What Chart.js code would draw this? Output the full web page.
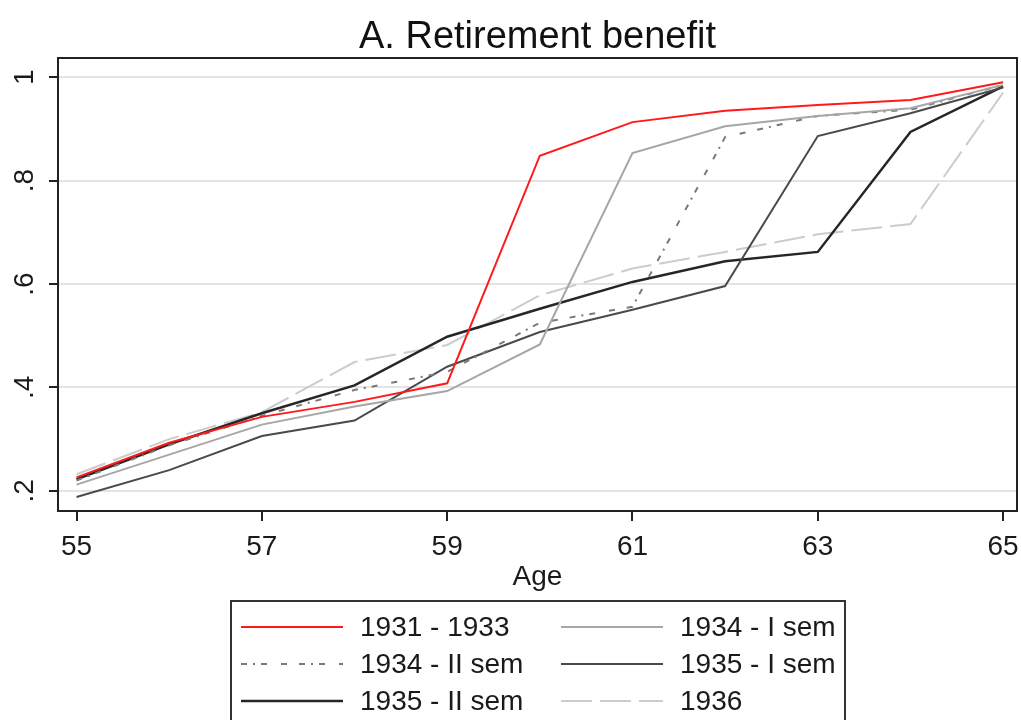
<!DOCTYPE html>
<html>
<head>
<meta charset="utf-8">
<script src="https://cdn.jsdelivr.net/npm/chart.js@4/dist/chart.umd.min.js"></script>
<style>
	html, body { margin: 0; padding: 0; background: #fff; }
	#chart { display: block; }
</style>
</head>
<body>
<canvas id="chart" width="1021" height="720"></canvas>
<script>
const ages = [55, 56, 57, 58, 59, 60, 61, 62, 63, 64, 65];
const xTicks = [55, 57, 59, 61, 63, 65];
const yTicks = [0.2, 0.4, 0.6, 0.8, 1];
const yTickLabels = ['.2', '.4', '.6', '.8', '1'];

const s1931_1933 = [0.226, 0.293, 0.343, 0.372, 0.408, 0.848, 0.913, 0.935, 0.946, 0.956, 0.990];
const s1934_I = [0.212, 0.270, 0.328, 0.363, 0.393, 0.483, 0.853, 0.905, 0.925, 0.940, 0.985];
const s1934_II = [0.220, 0.288, 0.345, 0.395, 0.430, 0.525, 0.556, 0.884, 0.925, 0.937, 0.985];
const s1935_I = [0.188, 0.240, 0.306, 0.336, 0.440, 0.507, 0.550, 0.596, 0.886, 0.930, 0.980];
const s1935_II = [0.222, 0.290, 0.350, 0.404, 0.498, 0.552, 0.604, 0.644, 0.662, 0.894, 0.982];
const s1936 = [0.232, 0.300, 0.352, 0.449, 0.482, 0.578, 0.630, 0.662, 0.696, 0.716, 0.970];

const labels = ['1931 - 1933', '1934 - I sem', '1934 - II sem', '1935 - I sem', '1935 - II sem', '1936'];
const colors = ['#ff1a1a', '#a6a6a6', '#7a7a7a', '#4a4a4a', '#262626', '#cccccc'];
const widths = [2, 2, 2, 2, 2.5, 2];
const dashes = [[], [], [6, 6, 2, 6, 6, 14, 6, 12], [], [], [31, 8]];
const series = [s1931_1933, s1934_I, s1934_II, s1935_I, s1935_II, s1936];

const toPoints = (vals) => vals.map((v, i) => ({ x: ages[i], y: v }));

// y labels are rotated, drawn by hand; box around plot; legend in two columns
const extras = {
	id: 'extras',
	afterDraw(chart) {
		const ctx = chart.ctx;
		const area = chart.chartArea;
		const y = chart.scales.y;

		ctx.save();
		ctx.strokeStyle = '#222';
		ctx.lineWidth = 2;
		ctx.strokeRect(area.left, area.top, area.right - area.left, area.bottom - area.top);

		ctx.fillStyle = '#1a1a1a';
		ctx.font = '28px "Liberation Sans", Arial, sans-serif';
		ctx.textAlign = 'center';
		ctx.textBaseline = 'alphabetic';
		yTicks.forEach((v, i) => {
			ctx.save();
			ctx.translate(33, y.getPixelForValue(v));
			ctx.rotate(-Math.PI / 2);
			ctx.fillText(yTickLabels[i], 0, 0);
			ctx.restore();
		});

		// legend
		ctx.strokeStyle = '#333';
		ctx.lineWidth = 2;
		ctx.strokeRect(231, 601, 614, 130);
		const rows = [627, 664, 701];
		const cols = [241, 561];
		ctx.font = '28px "Liberation Sans", Arial, sans-serif';
		ctx.textAlign = 'left';
		ctx.textBaseline = 'middle';
		labels.forEach((lab, i) => {
			const cx = cols[i % 2];
			const cy = rows[Math.floor(i / 2)];
			ctx.beginPath();
			ctx.setLineDash(dashes[i]);
			ctx.strokeStyle = colors[i];
			ctx.lineWidth = widths[i];
			ctx.moveTo(cx, cy);
			ctx.lineTo(cx + 102, cy);
			ctx.stroke();
			ctx.setLineDash([]);
			ctx.fillStyle = '#1a1a1a';
			ctx.fillText(lab, cx + 119, cy + 1);
		});
		ctx.restore();
	}
};

new Chart(document.getElementById('chart'), {
	type: 'line',
	data: {
		datasets: series.map((s, i) => ({
			label: labels[i],
			data: toPoints(s),
			borderColor: colors[i],
			borderWidth: widths[i],
			borderDash: dashes[i],
			pointRadius: 0,
			tension: 0,
			fill: false,
		})),
	},
	options: {
		responsive: false,
		animation: false,
		devicePixelRatio: 1,
		layout: {
			padding: { left: 0, right: 4, top: 0, bottom: 129 },
		},
		plugins: {
			legend: { display: false },
			tooltip: { enabled: false },
			title: {
				display: true,
				text: 'A. Retirement benefit',
				fullSize: false,
				color: '#111',
				font: { family: '"Liberation Sans", Arial, sans-serif', size: 38, weight: 'normal', lineHeight: 1 },
				padding: { top: 19, bottom: 1 },
			},
		},
		scales: {
			x: {
				type: 'linear',
				min: 54.8,
				max: 65.15,
				afterBuildTicks: (s) => { s.ticks = xTicks.map((v) => ({ value: v })); },
				afterFit: (s) => { s.height = 80; s.paddingLeft = 0; s.paddingRight = 0; },
				grid: {
					drawOnChartArea: false,
					drawTicks: true,
					tickLength: 10,
					tickColor: '#222',
					lineWidth: 2,
				},
				border: { display: true, color: '#222', width: 2 },
				ticks: {
					color: '#1a1a1a',
					padding: 9,
					maxRotation: 0,
					font: { family: '"Liberation Sans", Arial, sans-serif', size: 28 },
				},
				title: {
					display: true,
					text: 'Age',
					color: '#1a1a1a',
					padding: 0,
					font: { family: '"Liberation Sans", Arial, sans-serif', size: 28, lineHeight: 1 },
				},
			},
			y: {
				min: 0.161,
				max: 1.037,
				afterBuildTicks: (s) => { s.ticks = yTicks.map((v) => ({ value: v })); },
				afterFit: (s) => { s.width = 58; s.paddingTop = 0; s.paddingBottom = 0; },
				grid: {
					color: '#e4e4e4',
					lineWidth: 2,
					drawTicks: true,
					tickLength: 9,
					tickColor: '#222',
				},
				border: { display: true, color: '#222', width: 2 },
				ticks: { display: false },
			},
		},
	},
	plugins: [extras],
});
</script>
</body>
</html>
